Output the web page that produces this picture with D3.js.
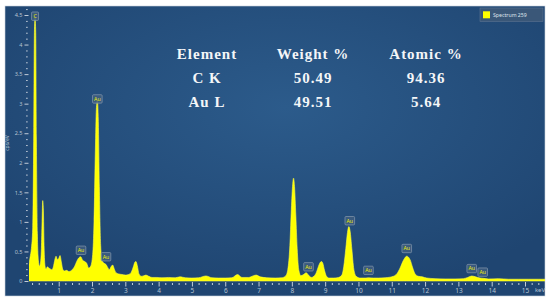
<!DOCTYPE html>
<html>
<head>
<meta charset="utf-8">
<script src="https://cdn.jsdelivr.net/npm/d3@7"></script>
<style>
body{margin:0;background:#fff;}
svg{display:block;}
</style>
</head>
<body>
<svg id="chart" width="550" height="303"></svg>
<script>
// spectrum (keV, cps/eV)
var energy = [0.10,0.14,0.18,0.22,0.25,0.27,0.29,0.31,0.33,0.36,0.39,0.42,0.45,0.48,0.50,0.52,0.54,0.56,0.59,0.62,
  0.66,0.70,0.76,0.80,0.84,0.88,0.92,0.96,1.00,1.04,1.08,1.12,1.18,1.24,1.30,1.36,1.42,1.48,1.54,1.60,
  1.66,1.72,1.78,1.84,1.90,1.96,2.02,2.06,2.10,2.13,2.16,2.19,2.22,2.26,2.30,2.36,2.42,2.48,2.52,2.57,
  2.62,2.67,2.72,2.80,2.90,3.00,3.10,3.18,3.24,3.29,3.32,3.36,3.41,3.48,3.56,3.62,3.70,3.80,3.95,4.10,
  4.30,4.50,4.64,4.80,5.00,5.20,5.42,5.60,5.80,6.00,6.20,6.37,6.50,6.70,6.85,6.93,7.05,7.25,7.50,7.70,
  7.82,7.88,7.94,7.98,8.02,8.05,8.08,8.12,8.16,8.21,8.27,8.35,8.43,8.50,8.58,8.66,8.74,8.80,8.86,8.89,
  8.93,8.98,9.04,9.12,9.25,9.40,9.50,9.56,9.62,9.67,9.71,9.75,9.80,9.86,9.93,10.05,10.20,10.30,10.45,10.60,
  10.80,10.95,11.05,11.15,11.25,11.35,11.45,11.55,11.63,11.70,11.80,11.92,12.05,12.30,12.60,12.90,13.15,13.28,13.40,13.52,
  13.65,13.75,13.90,14.20,14.50,14.80,15.10,15.40,15.60];
var counts = [0.25,0.40,0.55,0.90,2.50,4.20,4.45,4.20,2.40,0.80,0.35,0.25,0.30,0.55,1.00,1.36,1.20,0.60,0.25,0.20,
  0.24,0.22,0.20,0.19,0.24,0.35,0.42,0.36,0.38,0.43,0.32,0.20,0.17,0.18,0.16,0.17,0.20,0.25,0.33,0.39,
  0.41,0.35,0.33,0.30,0.22,0.25,0.45,1.00,2.20,2.90,3.05,2.70,1.60,0.60,0.35,0.30,0.28,0.22,0.19,0.24,
  0.27,0.20,0.14,0.12,0.11,0.10,0.11,0.15,0.24,0.32,0.33,0.26,0.12,0.08,0.09,0.10,0.08,0.06,0.06,0.055,
  0.06,0.055,0.07,0.055,0.05,0.055,0.085,0.055,0.05,0.05,0.055,0.11,0.06,0.06,0.09,0.10,0.07,0.055,0.05,0.055,
  0.09,0.20,0.60,1.15,1.60,1.74,1.60,1.10,0.55,0.18,0.09,0.11,0.14,0.10,0.06,0.08,0.15,0.25,0.32,0.33,
  0.30,0.18,0.08,0.05,0.05,0.06,0.10,0.25,0.55,0.82,0.92,0.84,0.55,0.20,0.08,0.05,0.05,0.055,0.05,0.05,
  0.055,0.065,0.08,0.12,0.22,0.35,0.42,0.36,0.22,0.12,0.08,0.07,0.05,0.04,0.035,0.035,0.04,0.06,0.085,0.07,
  0.05,0.045,0.035,0.04,0.03,0.03,0.03,0.03,0.03];

// peak markers
var peakNames = ["C","Au","Au","Au","Au","Au","Au","Au","Au","Au"];
var peakEnergy = [0.29,1.67,2.16,2.42,8.50,9.74,10.30,11.45,13.40,13.73];
var peakLevel = [4.48,0.52,3.08,0.41,0.24,1.02,0.18,0.55,0.21,0.15];

// quantification table
var tableHeader = ["Element","Weight %","Atomic %"];
var tableElements = ["C K","Au L"];
var weightPct = ["50.49","49.51"];
var atomicPct = ["94.36","5.64"];

var legendLabel = "Spectrum 259";

var svg = d3.select("#chart");
var defs = svg.append("defs");

var bg = defs.append("radialGradient").attr("id","bg")
  .attr("cx","52%").attr("cy","35%").attr("r","65%");
bg.append("stop").attr("offset","0%").attr("stop-color","#2c5b8b");
bg.append("stop").attr("offset","100%").attr("stop-color","#1f4571");

defs.append("clipPath").attr("id","plotClip")
  .append("rect").attr("x",29).attr("y",6).attr("width",516).attr("height",276);

svg.append("rect")
  .attr("x",5).attr("y",6).attr("width",540).attr("height",290)
  .attr("fill","url(#bg)")
  .attr("stroke","#c9d2dc").attr("stroke-width",0.6);

var x = d3.scaleLinear().domain([0,15]).range([25.4,525]);
var y = d3.scaleLinear().domain([0,4.5]).range([281,15]);

var spectrum = energy.map(function(e,i){return {e:e,v:counts[i]};});

var area = d3.area()
  .x(function(d){return x(d.e);})
  .y0(y(0))
  .y1(function(d){return y(d.v);})
  .curve(d3.curveMonotoneX);

svg.append("path")
  .datum(spectrum)
  .attr("clip-path","url(#plotClip)")
  .attr("d",area)
  .attr("fill","#ffff00")
  .attr("stroke","#ffff40")
  .attr("stroke-width",0.6);

// axes
var tickColor = "#c3ccd8";
var yMajor = d3.range(0,4.51,0.5);
var yMinor = d3.range(0.1,4.61,0.1).filter(function(v){return Math.abs(v*2-Math.round(v*2))>0.01;});
var xMajor = d3.range(1,16,1);
var xMinor = d3.range(0.2,15.5,0.2).filter(function(v){return Math.abs(v-Math.round(v))>0.01;});

var yAxisG = svg.append("g").attr("transform","translate(28.5,0)")
  .call(d3.axisLeft(y).tickValues(yMajor).tickSize(4).tickPadding(2)
    .tickFormat(function(d){return d3.format("~g")(d);}));
var yMinorG = svg.append("g").attr("transform","translate(27.7,0)")
  .call(d3.axisLeft(y).tickValues(yMinor).tickSize(1.6).tickFormat(""));

var xAxisG = svg.append("g").attr("transform","translate(0,282)")
  .call(d3.axisBottom(x).tickValues(xMajor).tickSize(4.5).tickPadding(1.8)
    .tickFormat(function(d){return d;}));
var xMinorG = svg.append("g").attr("transform","translate(0,283)")
  .call(d3.axisBottom(x).tickValues(xMinor).tickSize(2).tickFormat(""));

[yAxisG,yMinorG,xAxisG,xMinorG].forEach(function(g){
  g.select(".domain").remove();
  g.selectAll("line").attr("stroke",tickColor).attr("stroke-width",1);
  g.selectAll("text").attr("fill","#b8c4d2").attr("font-family","Noto Sans");
});
yAxisG.selectAll("text").attr("font-size","5.5px");
xAxisG.selectAll("text").attr("font-size","6.5px");

svg.append("text")
  .attr("x",540).attr("y",292.3)
  .attr("text-anchor","middle")
  .attr("font-family","Noto Sans").attr("font-size","6px")
  .attr("fill","#b8c4d2")
  .text("keV");

svg.append("text")
  .attr("transform","translate(9,143) rotate(-90)")
  .attr("text-anchor","middle")
  .attr("font-family","Noto Sans").attr("font-size","5px")
  .attr("fill","#b8c4d2")
  .text("cps/eV");

// peak labels
var peaks = peakNames.map(function(n,i){return {name:n,e:peakEnergy[i],v:peakLevel[i]};});
var peakG = svg.selectAll("g.peak")
  .data(peaks)
  .enter()
  .append("g")
  .attr("class","peak")
  .attr("transform",function(d){return "translate(" + x(d.e) + "," + y(d.v) + ")";});

peakG.append("rect")
  .attr("x",function(d){return d.name=="C" ? -3.5 : -4.8;})
  .attr("y",-4.2)
  .attr("width",function(d){return d.name=="C" ? 7 : 9.6;})
  .attr("height",8.4)
  .attr("rx",1)
  .attr("fill","#3f5e80")
  .attr("fill-opacity",0.85)
  .attr("stroke","#8799ad")
  .attr("stroke-width",0.7);

peakG.append("text")
  .attr("text-anchor","middle")
  .attr("y",1.9)
  .attr("font-family","Noto Sans").attr("font-size","5.2px")
  .attr("fill","#f0f000")
  .text(function(d){return d.name;});

// legend
var legend = svg.append("g").attr("transform","translate(480,8)");
legend.append("rect")
  .attr("width",63).attr("height",13.5)
  .attr("fill","#3a5778").attr("stroke","#5c7391").attr("stroke-width",0.6);
legend.append("rect")
  .attr("x",3).attr("y",3.3).attr("width",7).attr("height",7)
  .attr("fill","#ffff00");
legend.append("text")
  .attr("x",13).attr("y",9.2)
  .attr("font-family","Noto Sans").attr("font-size","5.2px")
  .attr("fill","#dfe6ee")
  .text(legendLabel);

// table
var colX = [207,313,426];
var rowY = [59,83.3,107.3];
var rows = [tableHeader].concat(tableElements.map(function(el,i){return [el,weightPct[i],atomicPct[i]];}));

var tableG = svg.append("g");
rows.forEach(function(row,r){
  tableG.selectAll("text.r" + r)
    .data(row)
    .enter()
    .append("text")
    .attr("class","r" + r)
    .attr("x",function(d,i){return colX[i];})
    .attr("y",rowY[r])
    .attr("text-anchor","middle")
    .attr("font-family","Liberation Serif")
    .attr("font-weight","bold")
    .attr("font-size","15px")
    .attr("letter-spacing","1px")
    .attr("fill","#f4f6f8")
    .text(function(d){return d;});
});
</script>
</body>
</html>
